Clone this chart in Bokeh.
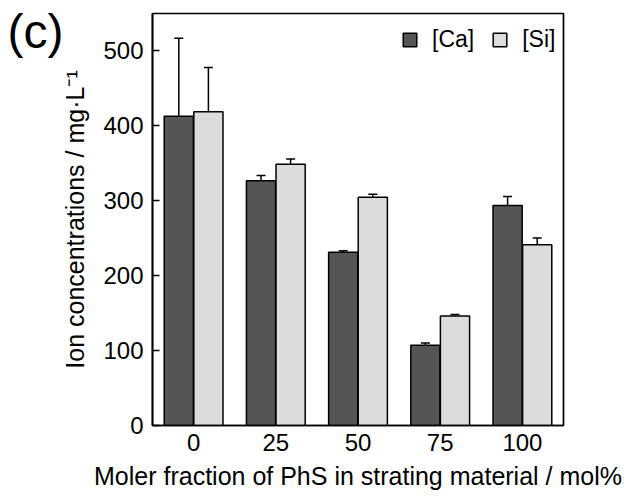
from bokeh.plotting import figure
from bokeh.models import ColumnDataSource, Whisker, TeeHead, Label, Legend, LegendItem, FixedTicker
from bokeh.embed import file_html
from bokeh.resources import INLINE

categories = ["0", "25", "50", "75", "100"]
ca_values = [412, 326, 231, 107, 293]
ca_errors = [104, 7, 2, 3, 12]
si_values = [418, 348, 304, 146, 241]
si_errors = [59, 7, 4, 2, 9]

FONT = "Liberation Sans"
DARK = "#555555"
LIGHT = "#dcdcdc"

xs = list(range(len(categories)))
ca_x = [x - 0.18 for x in xs]
si_x = [x + 0.18 for x in xs]

ca_src = ColumnDataSource(dict(
    x=ca_x, top=ca_values,
    upper=[v + e for v, e in zip(ca_values, ca_errors)],
    lower=[v - e for v, e in zip(ca_values, ca_errors)],
))
si_src = ColumnDataSource(dict(
    x=si_x, top=si_values,
    upper=[v + e for v, e in zip(si_values, si_errors)],
    lower=[v - e for v, e in zip(si_values, si_errors)],
))

p = figure(width=624, height=496, x_range=(-0.5, 4.5), y_range=(0, 549),
           output_backend="svg", toolbar_location=None)
p.min_border_left = 152
p.min_border_right = 61
p.min_border_top = 13
p.min_border_bottom = 71
p.background_fill_color = "white"
p.border_fill_color = "white"
p.outline_line_color = "black"
p.outline_line_width = 1.7
p.xgrid.visible = False
p.ygrid.visible = False

r_ca = p.vbar(x="x", top="top", width=0.355, bottom=0, source=ca_src,
              fill_color=DARK, line_color="black", line_width=1.5)
r_si = p.vbar(x="x", top="top", width=0.355, bottom=0, source=si_src,
              fill_color=LIGHT, line_color="black", line_width=1.5)

for src in (ca_src, si_src):
    w = Whisker(base="x", upper="upper", lower="lower", source=src,
                line_color="black", line_width=1.5,
                upper_head=TeeHead(size=9, line_color="black", line_width=1.5),
                lower_head=TeeHead(size=9, line_color="black", line_width=1.5))
    p.add_layout(w)

# axes
p.xaxis.ticker = FixedTicker(ticks=xs)
p.xaxis.major_label_overrides = {i: c for i, c in enumerate(categories)}
p.xaxis.major_tick_in = 0
p.xaxis.major_tick_out = 0
p.xaxis.minor_tick_in = 0
p.xaxis.minor_tick_out = 0
p.xaxis.axis_label = "Moler fraction of PhS in strating material / mol%"

p.yaxis.ticker = FixedTicker(ticks=[0, 100, 200, 300, 400, 500])
p.yaxis.major_tick_in = 7
p.yaxis.major_tick_out = 0
p.yaxis.minor_tick_in = 0
p.yaxis.minor_tick_out = 0
p.yaxis.axis_label = "Ion concentrations / mg\u00b7L\u207b\u00b9"

for ax in (p.xaxis[0], p.yaxis[0]):
    ax.axis_line_color = "black"
    ax.axis_line_width = 1.7
    ax.major_tick_line_color = "black"
    ax.major_tick_line_width = 1.5
    ax.major_label_text_font = FONT
    ax.major_label_text_font_size = "24px"
    ax.major_label_text_color = "black"
    ax.axis_label_text_font = FONT
    ax.axis_label_text_font_size = "25px"
    ax.axis_label_text_font_style = "normal"
    ax.axis_label_text_color = "black"

p.yaxis.major_label_standoff = 9
p.yaxis.axis_label_standoff = 11
p.xaxis.major_label_standoff = 8
p.xaxis.axis_label_standoff = 8

legend = Legend(items=[LegendItem(label="[Ca]", renderers=[r_ca]),
                       LegendItem(label="[Si]", renderers=[r_si])],
                location=(249, 372), orientation="horizontal")
legend.label_text_font = FONT
legend.label_text_font_size = "23px"
legend.label_text_color = "black"
legend.glyph_width = 17
legend.glyph_height = 17
legend.label_standoff = 14
legend.spacing = 17
legend.margin = 0
legend.padding = 8
legend.border_line_color = None
legend.background_fill_alpha = 0
p.add_layout(legend)

# panel letter "(c)" in the left side panel (side-panel annotations are not clipped)
lab = Label(x=5, y=421, x_units="screen", y_units="screen", text="(c)",
            text_font=FONT, text_font_size="48px",
            text_baseline="top", text_align="left", text_color="black")
p.add_layout(lab, "left")

open("out.html", "w").write(file_html(p, INLINE))
